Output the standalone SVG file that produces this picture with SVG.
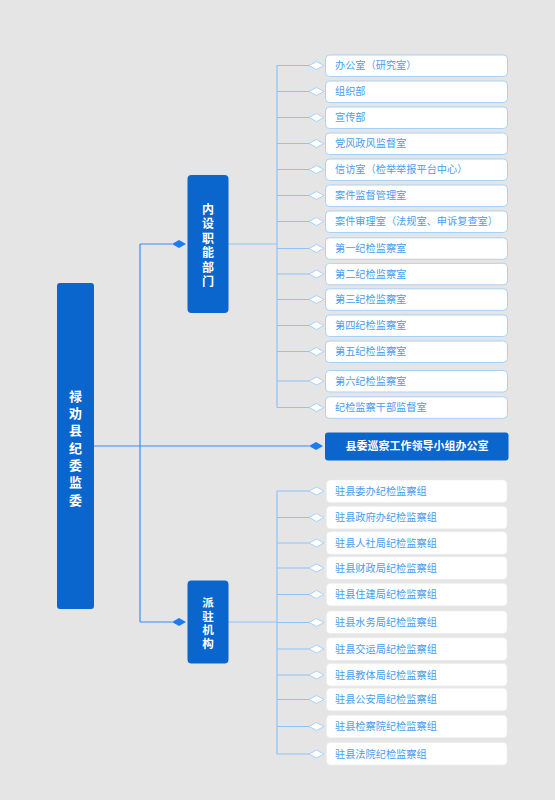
<svg xmlns="http://www.w3.org/2000/svg" width="555" height="800" viewBox="0 0 555 800">
<defs>
<style>
.bg{fill:#e5e5e5}
.main{fill:#0a66cc}
.vt{font-family:"Noto Sans CJK SC","Liberation Sans",sans-serif;font-weight:bold;fill:#ffffff;text-anchor:middle}
.vv{writing-mode:vertical-rl}
.box1{fill:#ffffff;stroke:#a9d1f8;stroke-width:1}
.box2{fill:#ffffff;stroke:#ececec;stroke-width:0.6}
.lt{font-family:"Noto Sans CJK SC","Liberation Sans",sans-serif;font-size:10.2px;fill:#4a9cf0}
.ln{stroke:#8cc4f8;stroke-width:1.2;fill:none}
.lnd{stroke:#3b8ef2;stroke-width:1.2;fill:none}
.dh{fill:#ffffff;stroke:#a9d1f8;stroke-width:1}
.df{fill:#1a7cf0}
</style>
</defs>
<rect class="bg" x="0" y="0" width="555" height="800"/>

<g id="connectors">
<path class="lnd" d="M93 446 H309 M140 244 V622 M140 244 H172 M140 622 H172"/>
<path class="df" d="M309 446 L316 442 L323 446 L316 450 Z"/>
<path class="df" d="M172 244 L179 240 L186 244 L179 248 Z"/>
<path class="df" d="M172 622 L179 618 L186 622 L179 626 Z"/>
<path class="ln" d="M228 244 H277 M228 622 H277 M277 65.5 V407.5 M277 491 V754"/>
<g id="top-links">
<path class="ln" d="M277 65.5 H309 M277 91.5 H309 M277 117.5 H309 M277 143.5 H309 M277 169.5 H309 M277 195.5 H309 M277 221.5 H309 M277 248.5 H309 M277 274 H309 M277 299.5 H309 M277 325.5 H309 M277 351.5 H309 M277 381 H309 M277 407.5 H309"/>
</g>
<g id="bottom-links">
<path class="ln" d="M277 491 H309 M277 517.5 H309 M277 543 H309 M277 568 H309 M277 594.5 H309 M277 622.5 H309 M277 649 H309 M277 675 H309 M277 699.5 H309 M277 726.5 H309 M277 754 H309"/>
</g>
<g id="diamonds">
<path class="dh" d="M309 65.5 l7.5 -4 l7.5 4 l-7.5 4 Z M309 91.5 l7.5 -4 l7.5 4 l-7.5 4 Z M309 117.5 l7.5 -4 l7.5 4 l-7.5 4 Z M309 143.5 l7.5 -4 l7.5 4 l-7.5 4 Z M309 169.5 l7.5 -4 l7.5 4 l-7.5 4 Z M309 195.5 l7.5 -4 l7.5 4 l-7.5 4 Z M309 221.5 l7.5 -4 l7.5 4 l-7.5 4 Z M309 248.5 l7.5 -4 l7.5 4 l-7.5 4 Z M309 274 l7.5 -4 l7.5 4 l-7.5 4 Z M309 299.5 l7.5 -4 l7.5 4 l-7.5 4 Z M309 325.5 l7.5 -4 l7.5 4 l-7.5 4 Z M309 351.5 l7.5 -4 l7.5 4 l-7.5 4 Z M309 381 l7.5 -4 l7.5 4 l-7.5 4 Z M309 407.5 l7.5 -4 l7.5 4 l-7.5 4 Z"/>
<path class="dh" d="M309 491 l7.5 -4 l7.5 4 l-7.5 4 Z M309 517.5 l7.5 -4 l7.5 4 l-7.5 4 Z M309 543 l7.5 -4 l7.5 4 l-7.5 4 Z M309 568 l7.5 -4 l7.5 4 l-7.5 4 Z M309 594.5 l7.5 -4 l7.5 4 l-7.5 4 Z M309 622.5 l7.5 -4 l7.5 4 l-7.5 4 Z M309 649 l7.5 -4 l7.5 4 l-7.5 4 Z M309 675 l7.5 -4 l7.5 4 l-7.5 4 Z M309 699.5 l7.5 -4 l7.5 4 l-7.5 4 Z M309 726.5 l7.5 -4 l7.5 4 l-7.5 4 Z M309 754 l7.5 -4 l7.5 4 l-7.5 4 Z"/>
</g>
</g>

<g id="root">
<rect class="main" x="57" y="283" width="37" height="326" rx="3"/>
<text class="vt vv" font-size="13" letter-spacing="4.3" x="75.5" y="450">禄劝县纪委监委</text>
</g>

<g id="neishe">
<rect class="main" x="187.5" y="175" width="41" height="138" rx="4"/>
<text class="vt vv" font-size="12" letter-spacing="2.5" x="208" y="246.5">内设职能部门</text>
</g>

<g id="paizhu">
<rect class="main" x="187.5" y="580.5" width="41" height="83" rx="4"/>
<text class="vt vv" font-size="11.5" letter-spacing="2" x="208" y="624">派驻机构</text>
</g>

<g id="xuncha">
<rect class="main" x="325" y="432.5" width="183.5" height="28" rx="3"/>
<text class="vt" font-size="11" x="417" y="450.3">县委巡察工作领导小组办公室</text>
</g>

<g id="n1"><rect class="box1" x="325.5" y="55" width="182" height="21.5" rx="4"/><text class="lt" x="335" y="69.3">办公室（研究室）</text></g>
<g id="n2"><rect class="box1" x="325.5" y="81" width="182" height="21.5" rx="4"/><text class="lt" x="335" y="95.3">组织部</text></g>
<g id="n3"><rect class="box1" x="325.5" y="107" width="182" height="21.5" rx="4"/><text class="lt" x="335" y="121.3">宣传部</text></g>
<g id="n4"><rect class="box1" x="325.5" y="133" width="182" height="21.5" rx="4"/><text class="lt" x="335" y="147.3">党风政风监督室</text></g>
<g id="n5"><rect class="box1" x="325.5" y="159" width="182" height="21.5" rx="4"/><text class="lt" x="335" y="173.3">信访室（检举举报平台中心）</text></g>
<g id="n6"><rect class="box1" x="325.5" y="185" width="182" height="21.5" rx="4"/><text class="lt" x="335" y="199.3">案件监督管理室</text></g>
<g id="n7"><rect class="box1" x="325.5" y="211" width="182" height="21.5" rx="4"/><text class="lt" x="335" y="225.3">案件审理室（法规室、申诉复查室）</text></g>
<g id="n8"><rect class="box1" x="325.5" y="237.8" width="182" height="21.5" rx="4"/><text class="lt" x="335" y="252.1">第一纪检监察室</text></g>
<g id="n9"><rect class="box1" x="325.5" y="263.3" width="182" height="21.5" rx="4"/><text class="lt" x="335" y="277.8">第二纪检监察室</text></g>
<g id="n10"><rect class="box1" x="325.5" y="288.8" width="182" height="21.5" rx="4"/><text class="lt" x="335" y="303.3">第三纪检监察室</text></g>
<g id="n11"><rect class="box1" x="325.5" y="315" width="182" height="21.5" rx="4"/><text class="lt" x="335" y="329.3">第四纪检监察室</text></g>
<g id="n12"><rect class="box1" x="325.5" y="341" width="182" height="21.5" rx="4"/><text class="lt" x="335" y="355.3">第五纪检监察室</text></g>
<g id="n13"><rect class="box1" x="325.5" y="370.5" width="182" height="21.5" rx="4"/><text class="lt" x="335" y="384.8">第六纪检监察室</text></g>
<g id="n14"><rect class="box1" x="325.5" y="396.8" width="182" height="21.5" rx="4"/><text class="lt" x="335" y="411.3">纪检监察干部监督室</text></g>

<g id="p1"><rect class="box2" x="326.5" y="480" width="180.5" height="22.5" rx="4"/><text class="lt" x="335" y="494.8">驻县委办纪检监察组</text></g>
<g id="p2"><rect class="box2" x="326.5" y="506.3" width="180.5" height="22.5" rx="4"/><text class="lt" x="335" y="521.3">驻县政府办纪检监察组</text></g>
<g id="p3"><rect class="box2" x="326.5" y="531.8" width="180.5" height="22.5" rx="4"/><text class="lt" x="335" y="546.8">驻县人社局纪检监察组</text></g>
<g id="p4"><rect class="box2" x="326.5" y="556.8" width="180.5" height="22.5" rx="4"/><text class="lt" x="335" y="571.8">驻县财政局纪检监察组</text></g>
<g id="p5"><rect class="box2" x="326.5" y="583.3" width="180.5" height="22.5" rx="4"/><text class="lt" x="335" y="598.3">驻县住建局纪检监察组</text></g>
<g id="p6"><rect class="box2" x="326.5" y="611" width="180.5" height="22.5" rx="4"/><text class="lt" x="335" y="626.3">驻县水务局纪检监察组</text></g>
<g id="p7"><rect class="box2" x="326.5" y="637.8" width="180.5" height="22.5" rx="4"/><text class="lt" x="335" y="652.8">驻县交运局纪检监察组</text></g>
<g id="p8"><rect class="box2" x="326.5" y="663.5" width="180.5" height="22.5" rx="4"/><text class="lt" x="335" y="678.8">驻县教体局纪检监察组</text></g>
<g id="p9"><rect class="box2" x="326.5" y="688.3" width="180.5" height="22.5" rx="4"/><text class="lt" x="335" y="703.3">驻县公安局纪检监察组</text></g>
<g id="p10"><rect class="box2" x="326.5" y="715.2" width="180.5" height="22.5" rx="4"/><text class="lt" x="335" y="730.3">驻县检察院纪检监察组</text></g>
<g id="p11"><rect class="box2" x="326.5" y="742.5" width="180.5" height="22.5" rx="4"/><text class="lt" x="335" y="757.8">驻县法院纪检监察组</text></g>
</svg>
